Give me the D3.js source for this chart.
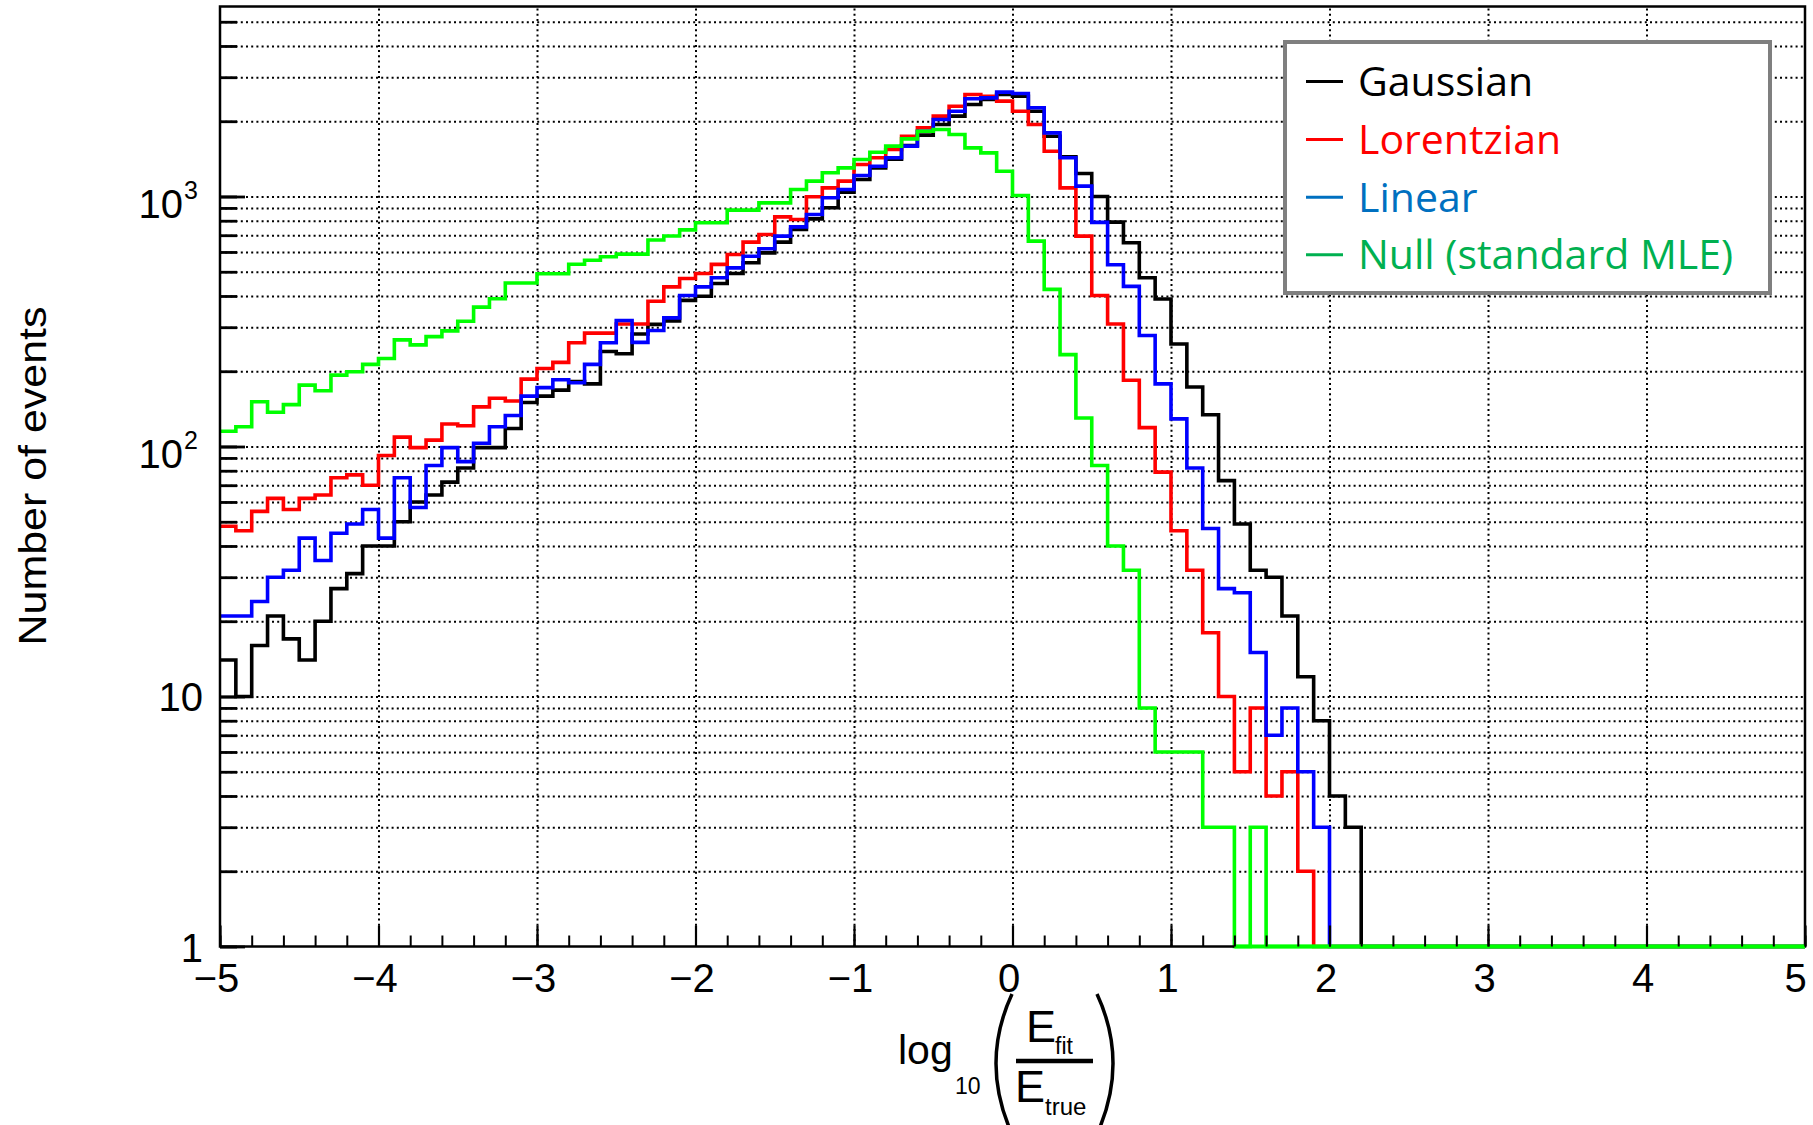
<!DOCTYPE html>
<html>
<head>
<meta charset="utf-8">
<script src="https://cdnjs.cloudflare.com/ajax/libs/d3/7.8.5/d3.min.js"></script>
<style>
body { margin: 0; background: #fff; }
</style>
</head>
<body>
<script>
// bin contents, 100 bins of 0.1 from -5 to 5
var gaussian = [
	14, 10, 16, 21, 17, 14, 20, 27, 31, 40,
	40, 50, 60, 64, 72, 82, 99, 99, 118, 150,
	159, 168, 182, 178, 240, 235, 282, 308, 318, 384,
	399, 449, 492, 543, 595, 657, 738, 814, 901, 1041,
	1169, 1300, 1410, 1600, 1760, 1941, 2096, 2333, 2443, 2559,
	2519, 2194, 1742, 1441, 1236, 1000, 790, 653, 473, 389,
	257, 173, 134, 73, 49, 32, 30, 21, 12, 8,
	4, 3, 0, 0, 0, 0, 0, 0, 0, 0,
	0, 0, 0, 0, 0, 0, 0, 0, 0, 0,
	0, 0, 0, 0, 0, 0, 0, 0, 0, 0];
var lorentzian = [
	48, 46, 55, 62, 56, 62, 64, 75, 77, 70,
	92, 109, 99, 106, 123, 121, 144, 156, 152, 186,
	205, 217, 260, 284, 284, 309, 309, 381, 435, 470,
	492, 535, 586, 657, 705, 829, 809, 997, 1083, 1152,
	1343, 1428, 1542, 1742, 1883, 2096, 2297, 2559, 2519, 2406,
	2194, 1941, 1518, 1083, 694, 402, 309, 184, 119, 79,
	46, 32, 18, 10, 5, 9, 4, 5, 2, 0,
	0, 0, 0, 0, 0, 0, 0, 0, 0, 0,
	0, 0, 0, 0, 0, 0, 0, 0, 0, 0,
	0, 0, 0, 0, 0, 0, 0, 0, 0, 0];
var linear = [
	21, 21, 24, 30, 32, 43, 35, 45, 49, 56,
	43, 75, 57, 84, 99, 87, 103, 120, 133, 159,
	172, 185, 180, 213, 260, 319, 261, 291, 327, 402,
	435, 473, 518, 577, 618, 694, 756, 847, 988, 1067,
	1213, 1322, 1428, 1590, 1825, 2032, 2194, 2459, 2481, 2614,
	2582, 2263, 1797, 1428, 1100, 788, 533, 437, 278, 178,
	129, 82, 47, 27, 26, 15, 7, 9, 5, 3,
	0, 0, 0, 0, 0, 0, 0, 0, 0, 0,
	0, 0, 0, 0, 0, 0, 0, 0, 0, 0,
	0, 0, 0, 0, 0, 0, 0, 0, 0, 0];
var nullMle = [
	115, 120, 151, 137, 147, 176, 167, 193, 199, 213,
	225, 267, 255, 275, 290, 317, 361, 390, 451, 451,
	491, 491, 536, 556, 574, 588, 588, 670, 695, 735,
	785, 785, 882, 882, 943, 943, 1067, 1152, 1244, 1302,
	1406, 1504, 1590, 1700, 1825, 1854, 1770, 1565, 1495, 1262,
	1009, 663, 425, 233, 130, 84, 40, 32, 9, 6,
	6, 6, 3, 3, 0, 3, 0, 0, 0, 0,
	0, 0, 0, 0, 0, 0, 0, 0, 0, 0,
	0, 0, 0, 0, 0, 0, 0, 0, 0, 0,
	0, 0, 0, 0, 0, 0, 0, 0, 0, 0];

var seriesNames = ["Gaussian", "Lorentzian", "Linear", "Null (standard MLE)"];
var xMin = -5, xMax = 5, binWidth = 0.1;
var xTicks = [-5, -4, -3, -2, -1, 0, 1, 2, 3, 4, 5];
var yDecades = [1, 10, 100, 1000];
var yLabelBase = ["1", "10", "10", "10"];
var yLabelSup = ["", "", "2", "3"];

var lineColors = ["#000000", "#ff0000", "#0000ff", "#00ff00"];
var legendColors = ["#000000", "#ff0000", "#0070c0", "#00b050"];
var allSeries = [gaussian, lorentzian, linear, nullMle];

var width = 1813;
var height = 1125;
var plot = {left: 220, right: 1805, top: 6.5, bottom: 946.5};
var yMax = 5754;

var x = d3.scaleLinear()
	.domain([xMin, xMax])
	.range([plot.left, plot.right]);

var y = d3.scaleLog()
	.domain([1, yMax])
	.range([plot.bottom, plot.top]);

var svg = d3.select("body")
	.append("svg")
		.attr("width", width)
		.attr("height", height)
		.style("background-color", "white")
		.style("font-family", "'Liberation Sans', Arial, Helvetica, sans-serif");

// dotted grid
var gridH = d3.axisLeft(y)
	.tickValues(y.ticks().filter((d) => d > 1))
	.tickSize(-(plot.right - plot.left))
	.tickFormat("");
svg.append("g")
	.attr("class", "grid")
	.attr("transform", "translate(" + plot.left + ",0)")
	.call(gridH)
	.call((g) => g.select(".domain").remove())
	.selectAll("line")
		.attr("stroke", "#000")
		.attr("stroke-width", 2)
		.attr("stroke-dasharray", "2,3.2");

var gridV = d3.axisBottom(x)
	.tickValues(xTicks.filter((d) => d > xMin && d < xMax))
	.tickSize(-(plot.bottom - plot.top))
	.tickFormat("");
svg.append("g")
	.attr("class", "grid")
	.attr("transform", "translate(0," + plot.bottom + ")")
	.call(gridV)
	.call((g) => g.select(".domain").remove())
	.selectAll("line")
		.attr("stroke", "#000")
		.attr("stroke-width", 2)
		.attr("stroke-dasharray", "2,3.2");

// histograms as step outlines
var binStarts = d3.range(gaussian.length).map((i) => xMin + i * binWidth);
var line = d3.line()
	.x((d) => x(d[0]))
	.y((d) => y(Math.max(d[1], 1)));

allSeries.forEach((s, k) => {
	var pts = [];
	s.forEach((v, i) => {
		pts.push([binStarts[i], v]);
		pts.push([binStarts[i] + binWidth, v]);
	});
	svg.append("path")
		.attr("d", line(pts))
		.attr("fill", "none")
		.attr("stroke", lineColors[k])
		.attr("stroke-width", 3.6)
		.attr("stroke-linejoin", "miter");
});

// frame
svg.append("rect")
	.attr("x", plot.left)
	.attr("y", plot.top)
	.attr("width", plot.right - plot.left)
	.attr("height", plot.bottom - plot.top)
	.attr("fill", "none")
	.attr("stroke", "#000")
	.attr("stroke-width", 2.5);

// the empty null bins sit on the bottom of the frame, drawn again above it
svg.append("path")
	.attr("d", line(nullMle.map((v, i) => [binStarts[i], v]).filter((d) => d[1] === 0).flatMap((d) => [[d[0], 0], [d[0] + binWidth, 0]])))
	.attr("fill", "none")
	.attr("stroke", "#00ff00")
	.attr("stroke-width", 4);

// left axis ticks
var leftMinor = d3.axisLeft(y).tickValues(y.ticks()).tickSize(-17).tickFormat("");
var leftMajor = d3.axisLeft(y).tickValues(yDecades).tickSize(-25).tickFormat("");
[leftMinor, leftMajor].forEach((ax) => {
	svg.append("g")
		.attr("class", "left axis")
		.attr("transform", "translate(" + plot.left + ",0)")
		.call(ax)
		.call((g) => g.select(".domain").remove())
		.selectAll("line")
			.attr("stroke", "#000")
			.attr("stroke-width", 2.8);
});

// bottom axis ticks and labels
var bottomMinor = d3.axisBottom(x).tickValues(x.ticks(50)).tickSize(-11).tickFormat("");
svg.append("g")
	.attr("class", "bottom axis")
	.attr("transform", "translate(0," + plot.bottom + ")")
	.call(bottomMinor)
	.call((g) => g.select(".domain").remove())
	.selectAll("line")
		.attr("stroke", "#000")
		.attr("stroke-width", 2);

var bottomMajor = d3.axisBottom(x).tickValues(xTicks).tickSize(-21).tickPadding(17).tickFormat(d3.format("d"));
var bAxis = svg.append("g")
	.attr("class", "bottom axis")
	.attr("transform", "translate(0," + plot.bottom + ")")
	.call(bottomMajor)
	.call((g) => g.select(".domain").remove());
bAxis.selectAll("line")
	.attr("stroke", "#000")
	.attr("stroke-width", 2.2);
bAxis.selectAll("text")
	.attr("font-size", "40px")
	.attr("font-family", "'Liberation Sans', Arial, sans-serif")
	.attr("fill", "#000")
	.attr("dx", (d) => d === xMax ? -10 : -4);

// left labels 1, 10, 10^2, 10^3
yDecades.forEach((v, i) => {
	if (yLabelSup[i] === "") {
		svg.append("text")
			.attr("x", 203)
			.attr("y", y(v) + 15)
			.attr("text-anchor", "end")
			.attr("font-size", "40px")
			.text(yLabelBase[i]);
	} else {
		svg.append("text")
			.attr("x", 183)
			.attr("y", y(v) + 21.5)
			.attr("text-anchor", "end")
			.attr("font-size", "40px")
			.text(yLabelBase[i]);
		svg.append("text")
			.attr("x", 184)
			.attr("y", y(v) + 3)
			.attr("text-anchor", "start")
			.attr("font-size", "25px")
			.text(yLabelSup[i]);
	}
});

// y axis title
svg.append("text")
	.attr("class", "y axis-label")
	.attr("transform", "translate(46,476) rotate(-90)")
	.attr("text-anchor", "middle")
	.attr("font-size", "38px")
	.attr("textLength", 339)
	.attr("lengthAdjust", "spacingAndGlyphs")
	.text("Number of events");

// x axis title: log10( Efit / Etrue )
var xt = svg.append("g").attr("class", "x axis-label");
xt.append("text").attr("x", 898).attr("y", 1064).attr("font-size", "41px").text("log");
xt.append("text").attr("x", 955).attr("y", 1094).attr("font-size", "23px").text("10");
xt.append("path")
	.attr("d", "M1012,994 Q980,1063 1012,1134")
	.attr("fill", "none").attr("stroke", "#000").attr("stroke-width", 3.5);
xt.append("path")
	.attr("d", "M1097,994 Q1129,1063 1097,1134")
	.attr("fill", "none").attr("stroke", "#000").attr("stroke-width", 3.5);
xt.append("text").attr("x", 1026).attr("y", 1042).attr("font-size", "45px").text("E");
xt.append("text").attr("x", 1055).attr("y", 1054).attr("font-size", "23px").text("fit");
xt.append("line")
	.attr("x1", 1016).attr("x2", 1093)
	.attr("y1", 1061).attr("y2", 1061)
	.attr("stroke", "#000").attr("stroke-width", 4.5);
xt.append("text").attr("x", 1015).attr("y", 1102).attr("font-size", "45px").text("E");
xt.append("text").attr("x", 1045).attr("y", 1115).attr("font-size", "24px").text("true");

// legend
var legend = svg.append("g").attr("class", "legend");
legend.append("rect")
	.attr("x", 1285)
	.attr("y", 42)
	.attr("width", 485)
	.attr("height", 251)
	.attr("fill", "white")
	.attr("stroke", "#7f7f7f")
	.attr("stroke-width", 4);

var legendBaseline = [96, 154, 211.7, 269.3];
seriesNames.forEach((name, i) => {
	legend.append("line")
		.attr("x1", 1306)
		.attr("x2", 1343)
		.attr("y1", legendBaseline[i] - 14.5)
		.attr("y2", legendBaseline[i] - 14.5)
		.attr("stroke", legendColors[i])
		.attr("stroke-width", 3);
	legend.append("text")
		.attr("x", 1358)
		.attr("y", legendBaseline[i])
		.attr("font-family", "'Open Sans', sans-serif")
		.attr("font-size", "41px")
		.attr("fill", legendColors[i])
		.text(name);
});
</script>
</body>
</html>
